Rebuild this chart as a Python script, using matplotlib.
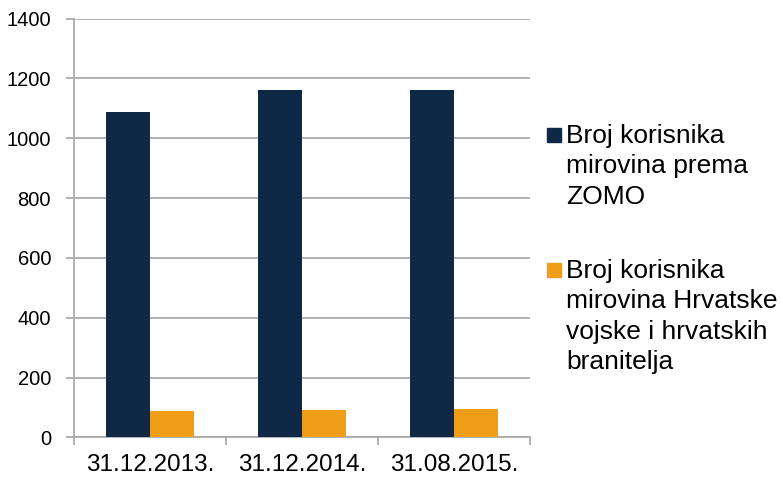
import matplotlib
matplotlib.use("Agg")
import matplotlib.pyplot as plt
import numpy as np
from matplotlib.patches import Rectangle

plt.rcParams['font.family'] = ['Liberation Sans', 'DejaVu Sans']

categories = ["31.12.2013.", "31.12.2014.", "31.08.2015."]
zomo = [1088, 1162, 1161]
hv = [87, 91, 95]
series_labels = [["Broj korisnika", "mirovina prema", "ZOMO"],
                 ["Broj korisnika", "mirovina Hrvatske", "vojske i hrvatskih", "branitelja"]]
colors = ["#0F2846", "#F09E18"]
yticks = [0, 200, 400, 600, 800, 1000, 1200, 1400]

W, H = 782, 478
fig = plt.figure(figsize=(W / 100, H / 100), dpi=100)
ax = fig.add_axes([74 / W, 1 - 437.3 / H, (530 - 74) / W, (437.3 - 18.7) / H])

x = np.arange(len(categories))
bw = 0.29
ax.bar(x - bw / 2, zomo, bw, color=colors[0], zorder=3)
ax.bar(x + bw / 2, hv, bw, color=colors[1], zorder=3)

ax.set_xlim(-0.5, len(categories) - 0.5)
ax.set_ylim(0, 1400)
ax.set_yticks(yticks)
ax.set_yticklabels([str(v) for v in yticks], fontsize=14.5)
ax.yaxis.grid(True, color="#A6A6A6", linewidth=1.2, zorder=0)
ax.tick_params(axis='y', length=6, color="#A6A6A6", width=1.2, pad=10.5)

# category labels at centers, tick marks at boundaries
ax.set_xticks(x)
ax.set_xticklabels(categories, fontsize=17.5)
ax.tick_params(axis='x', which='major', length=0, pad=12)
ax.set_xticks(np.arange(len(categories) + 1) - 0.5, minor=True)
ax.tick_params(axis='x', which='minor', length=6, color="#A6A6A6", width=1.2)

for s in ["top", "right"]:
    ax.spines[s].set_visible(False)
for s in ["left", "bottom"]:
    ax.spines[s].set_color("#A6A6A6")
    ax.spines[s].set_linewidth(1.2)

# legend drawn manually
legend_tops = [128.5, 263.3]
line_gap = 30.5
for lines, col, top in zip(series_labels, colors, legend_tops):
    fig.patches.append(Rectangle((547 / W, 1 - (top + 14) / H), 14 / W, 14 / H,
                                 transform=fig.transFigure, color=col))
    for i, line in enumerate(lines):
        fig.text(566 / W, 1 - (top + 14.5 + i * line_gap) / H, line, fontsize=19,
                 va='baseline', ha='left')

fig.savefig("out.png", dpi=100)
